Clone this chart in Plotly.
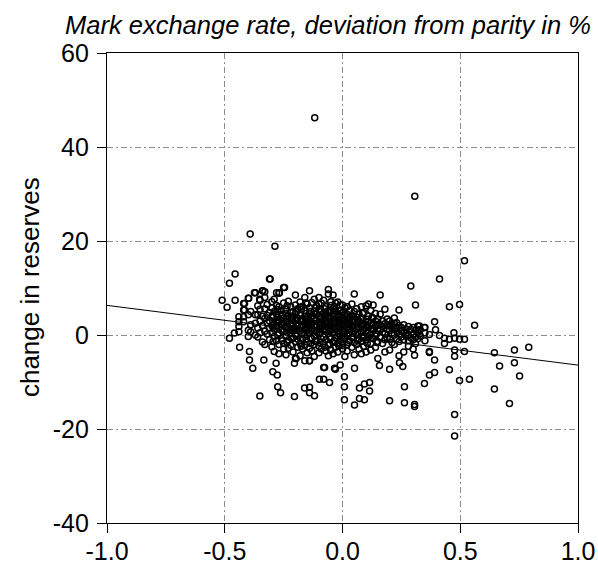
import plotly.graph_objects as go

# Scatter of monthly changes in reserves against the deviation of the
# Mark exchange rate from parity (in %), with a fitted OLS line.

# isolated observations away from the main cloud (x = deviation, y = change)
outliers_x = [-0.118, 0.307, -0.392, -0.287, -0.456, -0.480, -0.307, -0.511, -0.456,
              -0.490, -0.338, -0.330, -0.374, -0.398, -0.352, -0.268, -0.246, -0.416,
              -0.416, -0.459, -0.480]
outliers_y = [46.2, 29.5, 21.5, 18.9, 13.0, 11.0, 11.9, 7.4, 7.4,
              5.9, 9.4, 9.2, 9.0, 7.8, 7.6, 9.0, 10.1, 6.7,
              5.3, 0.4, -0.7]

# lower tail of the cloud
lower_x = [-0.437, -0.395, -0.395, -0.381, -0.334, -0.296, -0.282, -0.277, -0.275,
           -0.263, -0.351, -0.197, -0.204, -0.140, -0.076, -0.055, -0.098, -0.204,
           -0.161, -0.140, -0.140, -0.119, 0.008, 0.008, 0.008, 0.051, 0.072,
           0.093, 0.115, 0.115, 0.072, 0.093, -0.034, 0.051, 0.157, 0.200,
           0.242, 0.256, 0.263, 0.200, 0.263, 0.306, 0.306]
lower_y = [-2.6, -3.5, -5.3, -7.1, -5.3, -7.8, -6.0, -8.5, -11.0,
           -12.3, -13.0, -5.0, -6.0, -5.5, -6.9, -10.1, -9.4, -13.1,
           -11.3, -11.1, -12.3, -12.9, -8.9, -11.0, -13.8, -14.9, -11.3,
           -10.4, -10.1, -11.9, -13.5, -13.8, -7.1, -7.1, -6.5, -7.3,
           -5.9, -6.7, -11.0, -14.0, -14.4, -14.8, -15.2]

# right-hand side of the cloud (deviation above about +0.3 %)
right_x = [0.518, 0.412, 0.454, 0.497, 0.561, 0.391, 0.327, 0.327, 0.327, 0.348,
           0.369, 0.395, 0.412, 0.433, 0.454, 0.433, 0.473, 0.476, 0.497, 0.518,
           0.476, 0.476, 0.518, 0.369, 0.306, 0.391, 0.391, 0.369, 0.454, 0.348,
           0.497, 0.539, 0.476, 0.476, 0.645, 0.730, 0.791, 0.667, 0.730, 0.752,
           0.645, 0.709, 0.369]
right_y = [15.8, 11.9, 6.0, 6.5, 2.1, 2.8, 1.9, 1.1, 0.2, 1.6,
           0.1, 1.1, -0.1, -0.7, -0.9, -1.8, 0.5, -0.7, -0.9, -0.9,
           -3.2, -4.5, -3.5, -3.5, -4.3, -5.3, -8.0, -8.5, -7.4, -10.3,
           -9.7, -9.4, -16.9, -21.5, -3.8, -3.2, -2.6, -6.6, -5.9, -8.7,
           -11.5, -14.6, -3.7]

# dense core of the cloud, grouped by deviation
core_dev = [-0.44, -0.42, -0.40, -0.39, -0.37, -0.36, -0.35, -0.34, -0.33, -0.32,
            -0.31, -0.30, -0.29, -0.28, -0.27, -0.26, -0.25, -0.24, -0.23, -0.22,
            -0.21, -0.20, -0.19, -0.18, -0.17, -0.16, -0.15, -0.14, -0.13, -0.12,
            -0.11, -0.10, -0.09, -0.08, -0.07, -0.06, -0.05, -0.04, -0.03, -0.02,
            -0.01, 0.00, 0.01, 0.02, 0.03, 0.04, 0.05, 0.06, 0.07, 0.08,
            0.09, 0.10, 0.11, 0.12, 0.13, 0.14, 0.15, 0.16, 0.17, 0.18,
            0.19, 0.20, 0.21, 0.22, 0.23, 0.24, 0.25, 0.26, 0.27, 0.28,
            0.29, 0.30, 0.31, 0.32, 0.33, 0.35]
core_changes = [
    [3.9, 2.8, 1.8, 0.7],
    [3.9, 2.8, 5.3, 6.7],
    [7.8, 4.3, 1.0, -0.3],
    [0.7, 2.2, 5.0],
    [9.0, 4.3, 0.0, 2.5],
    [4.3, 1.5, -0.4, 6.2],
    [7.4, 3.0, 0.5, 5.5],
    [9.4, 2.0, -1.5, 4.0],
    [8.0, 3.5, 0.8, -2.0, 5.6],
    [6.5, 2.6, 0.2, 4.2],
    [11.9, 4.8, 1.5, -1.0, 3.0],
    [7.1, 3.8, 0.5, -2.5, 5.8, 2.0],
    [7.6, 5.0, 2.4, -0.3, -3.5, 1.2],
    [9.0, 4.4, 1.8, -1.2, 3.2, 6.3],
    [8.9, 6.0, 3.0, 0.4, -2.0, -4.0],
    [5.2, 2.2, -0.8, 4.1, 1.0],
    [10.1, 6.8, 3.6, 0.8, -1.8, -3.0, 2.5],
    [5.5, 2.9, -0.2, 4.6, 1.5, -4.2],
    [7.2, 4.0, 1.2, -1.0, 2.8, -2.8],
    [6.0, 3.3, 0.3, -2.2, 4.8, 1.9],
    [5.0, 2.4, -0.6, 3.8, 0.9, -3.6],
    [8.5, 6.4, 3.1, 1.4, -1.4, -5.0, 4.5, 0.0],
    [5.6, 2.0, -0.9, 3.6, -2.6],
    [7.0, 4.2, 1.0, -1.8, 2.9, -4.4, 5.9],
    [6.1, 3.4, 0.5, -0.9, 2.0, -3.0],
    [8.0, 5.2, 2.6, 0.0, -2.2, 4.0, -5.5, 1.3],
    [6.6, 3.8, 1.0, -1.5, 2.4, -3.8],
    [9.4, 5.8, 3.0, 0.4, -2.8, 4.6, 1.8, -5.5],
    [6.9, 4.1, 1.4, -0.8, 2.6, -3.4],
    [7.6, 5.0, 2.2, -0.2, -2.0, 3.6, 0.9, -4.6],
    [6.2, 3.2, 0.6, -1.2, 4.4, 1.9],
    [8.0, 5.5, 2.8, 0.2, -2.4, 4.0, 1.2, -3.8, 6.6],
    [6.8, 3.9, 1.5, -0.8, 2.6, -3.0, 5.0],
    [7.4, 4.6, 2.0, -0.4, -1.8, 3.3, 0.8, -6.9, -9.4],
    [6.0, 3.5, 1.0, -1.0, 2.4, -3.4, 4.8],
    [9.7, 8.7, 5.2, 2.8, 0.3, -2.2, 4.0, 1.6, -4.4],
    [7.1, 6.3, 3.8, 1.2, -0.8, 2.3, -3.2, 5.0],
    [8.5, 5.6, 2.9, 0.6, -1.6, 4.2, 1.8, -4.0],
    [6.8, 3.4, 1.1, -0.6, 2.4, -2.6, 5.1, -7.3],
    [7.0, 4.6, 2.0, -0.2, -1.8, 3.2, 0.8, -3.6],
    [6.4, 3.8, 1.4, -1.0, 2.5, -6.4, 5.2],
    [6.4, 4.8, 2.6, 0.2, -1.4, 3.6, 1.2, -3.0, -2.2],
    [5.8, 3.0, 0.8, -0.6, 2.0, -4.6, 4.2],
    [6.0, 4.4, 1.8, -0.1, -2.0, 3.0, -3.4],
    [5.2, 2.6, 0.4, -1.2, 3.8, 1.4],
    [6.6, 4.2, 1.8, -0.4, -2.6, 2.8],
    [8.7, 5.0, 3.2, 0.8, -1.6, 2.0, -4.2],
    [5.6, 2.4, 0.0, -2.0, 3.8, 1.2],
    [4.4, 1.6, -0.8, 2.9, -3.0],
    [6.0, 3.6, 0.6, -1.4, 2.0, -4.0],
    [4.8, 2.4, -0.2, 1.2, -2.4],
    [6.2, 3.4, 1.0, -1.0, 2.2, -3.6],
    [6.6, 4.0, 1.6, -0.4, 2.8],
    [5.2, 2.6, 0.2, -1.8, 1.4, -3.2],
    [6.4, 3.6, 1.0, -0.8, 2.2],
    [4.6, 1.8, -0.2, 3.0, -2.6],
    [3.4, 1.0, -1.4, 2.2, -5.0],
    [8.5, 4.4, 2.2, -0.4, 1.2],
    [3.0, 0.6, -1.8, 1.8],
    [5.5, 2.4, 0.2, -1.0, -3.6],
    [3.4, 1.2, -0.6, 2.0],
    [3.0, 1.0, -0.9, -3.2, 2.0],
    [2.4, 0.4, -1.6, 1.4],
    [3.6, 2.5, 1.4, 0.0, -2.0],
    [2.6, 0.8, -0.8, 1.6],
    [5.3, 2.0, 0.2, -1.4, -4.4],
    [1.6, -0.4, 0.8],
    [2.2, 0.6, -1.0, -3.6],
    [1.2, -0.2, 0.4],
    [1.8, 0.0, -1.2, -2.4],
    [10.4, 1.2, -0.6],
    [1.6, 0.2, -1.0, -3.0],
    [6.4, 1.0, -0.4, -1.8],
    [1.9, 0.6, -0.8],
    [1.1, -0.2],
    [1.6, 0.4, -1.2],
]

# the busiest part of the core, between the grouped columns above
core_mid_dev = [-0.295, -0.275, -0.255, -0.235, -0.215, -0.195, -0.175, -0.155,
                -0.135, -0.115, -0.095, -0.075, -0.055, -0.035, -0.015, 0.005,
                0.025, 0.045, 0.065, 0.085, 0.105, 0.125, 0.145]
core_mid_changes = [
    [4.2, 1.6, -1.4],
    [5.4, 2.6, 0.0, 3.8],
    [4.4, 1.2, -1.2, 2.9],
    [6.2, 3.4, 0.6, -1.6],
    [4.0, 1.2, 2.6, -0.8],
    [5.0, 2.4, -0.2, 3.6, 1.0],
    [5.4, 3.0, 0.2, -2.4, 1.6],
    [4.6, 1.8, -0.8, 3.2, 6.8],
    [5.0, 2.2, -0.6, 3.6, 1.0, -1.8],
    [4.4, 1.6, -1.4, 3.0, 5.8],
    [5.0, 3.4, 0.6, -1.6, 2.0],
    [4.0, 1.4, -2.6, 5.6, 2.8],
    [5.0, 2.0, -0.4, 3.4, 0.8, -1.8],
    [4.4, 1.6, -1.2, 3.0, 6.0],
    [4.0, 1.8, 0.2, -2.4, 2.8],
    [5.0, 2.2, -0.8, 3.4, 0.6],
    [3.6, 1.0, -1.6, 2.4],
    [4.0, 1.4, -0.6, 2.6],
    [3.2, 0.6, -1.2, 1.8],
    [4.6, 1.8, -0.6],
    [2.8, 0.4, -1.8],
    [3.8, 1.2, -0.6],
    [2.0, 0.2, -1.6],
]

# fitted regression line: change = intercept + slope * deviation
fit_intercept = -0.05
fit_slope = -6.35
fit_range = [-1.0, 1.0]

x_ticks = [-1.0, -0.5, 0.0, 0.5, 1.0]
x_tick_text = ["-1.0", "-0.5", "0.0", "0.5", "1.0"]
y_ticks = [-40, -20, 0, 20, 40, 60]
y_tick_text = ["-40", "-20", "0", "20", "40", "60"]

all_x = list(outliers_x) + list(lower_x) + list(right_x)
all_y = list(outliers_y) + list(lower_y) + list(right_y)
for devs, groups in ((core_dev, core_changes), (core_mid_dev, core_mid_changes)):
    for dev, changes in zip(devs, groups):
        for c in changes:
            all_x.append(dev)
            all_y.append(c)

FONT = "Liberation Sans, Arial, sans-serif"

fig = go.Figure()
fig.add_trace(go.Scatter(
    x=fit_range,
    y=[fit_intercept + fit_slope * v for v in fit_range],
    mode="lines",
    line=dict(color="black", width=1),
    hoverinfo="skip",
))
fig.add_trace(go.Scatter(
    x=all_x, y=all_y, mode="markers",
    marker=dict(symbol="circle-open", size=6, color="black",
                line=dict(width=1.5, color="black")),
))

grid = dict(gridcolor="#8c8c8c", gridwidth=1, griddash="6px,3px,2px,3px")
axis_common = dict(showline=True, linecolor="black", linewidth=1.2, mirror=True,
                   ticks="outside", ticklen=9, tickwidth=1, tickcolor="black",
                   zeroline=False, showgrid=True, automargin=False,
                   tickfont=dict(family=FONT, size=25, color="black"), **grid)

fig.update_xaxes(range=[-1, 1], tickvals=x_ticks, ticktext=x_tick_text,
                 ticklabelstandoff=-3, **axis_common)
fig.update_yaxes(range=[-40, 60], tickvals=y_ticks, ticktext=y_tick_text,
                 ticklabelstandoff=3, **axis_common)

# axis title and heading placed as text in paper coordinates
fig.add_annotation(
    text="change in reserves", textangle=-90,
    xref="paper", yref="paper", x=-0.1635, y=0.502,
    xanchor="center", yanchor="middle", showarrow=False,
    font=dict(family=FONT, size=26, color="black"),
)
fig.add_annotation(
    text="<i>Mark exchange rate, deviation from parity in %</i>",
    xref="paper", yref="paper", x=1.032, y=1.06,
    xanchor="right", yanchor="middle", showarrow=False,
    font=dict(family=FONT, size=25.5, color="black"),
)

fig.update_layout(
    width=598, height=565,
    margin=dict(l=107, r=20, t=53, b=42),
    plot_bgcolor="white", paper_bgcolor="white",
    showlegend=False,
)

fig.write_html("out.html")
